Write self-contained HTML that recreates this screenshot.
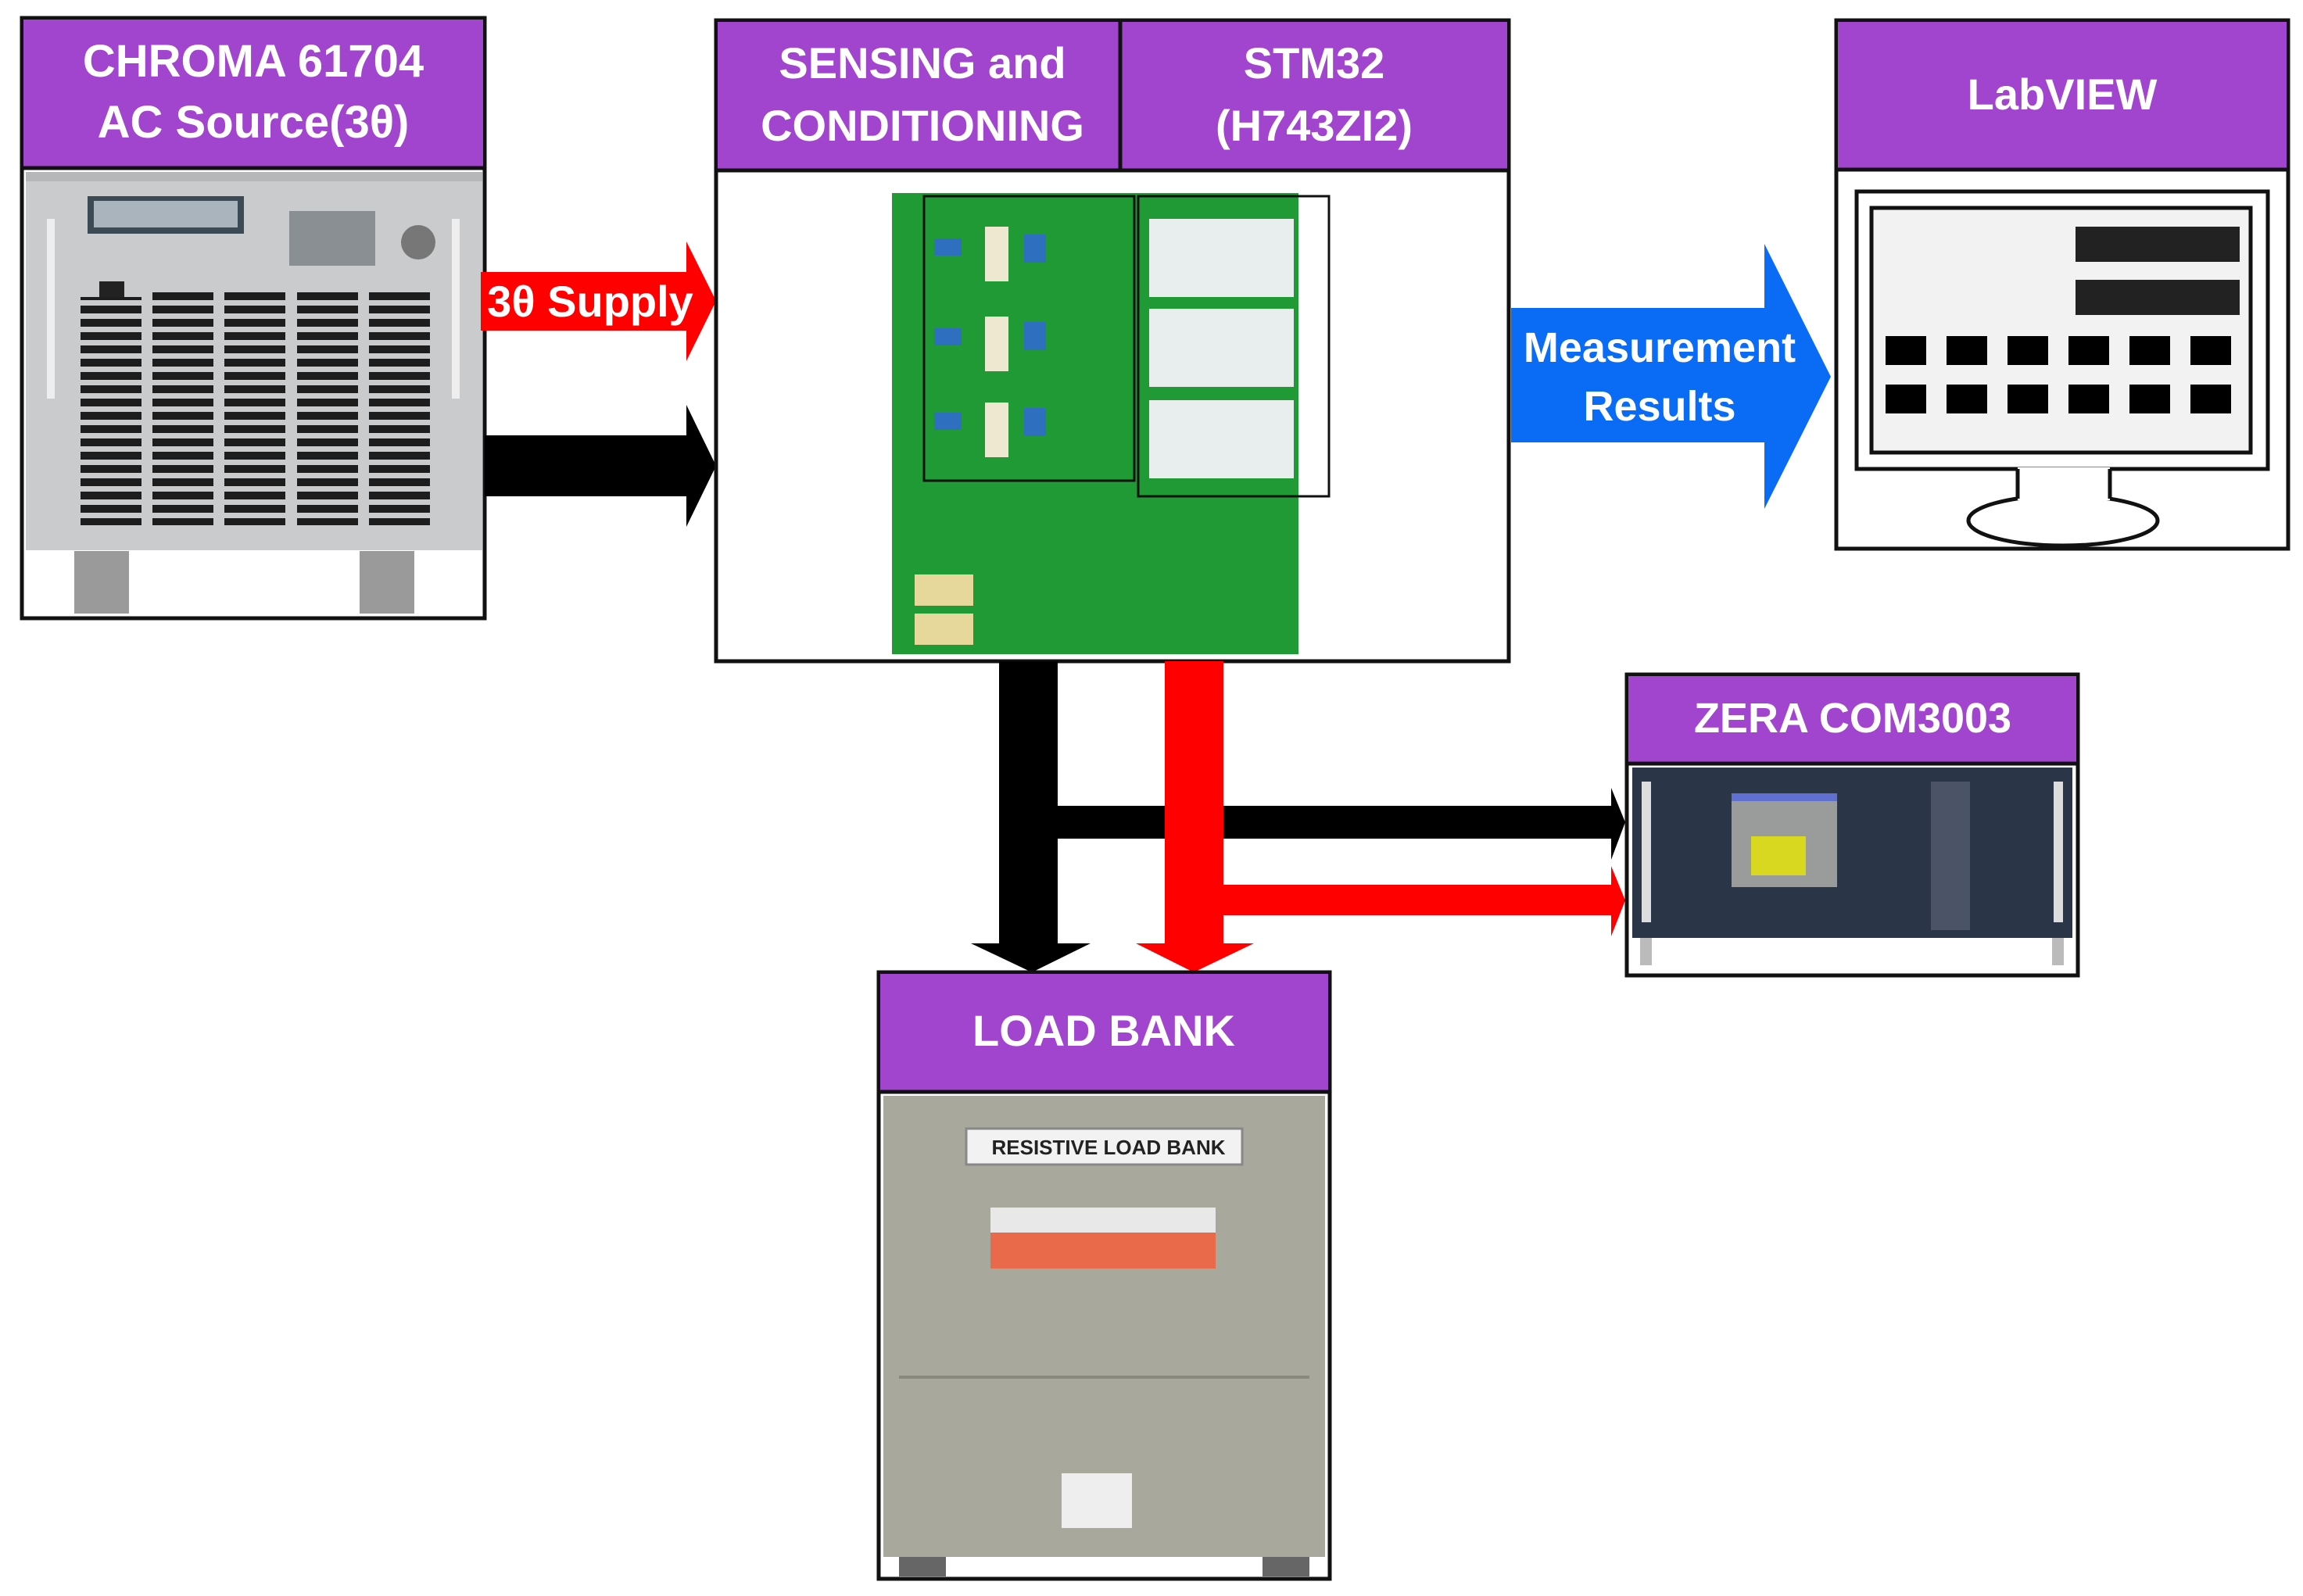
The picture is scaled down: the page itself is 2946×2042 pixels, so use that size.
<!DOCTYPE html>
<html><head><meta charset="utf-8"><style>
html,body{margin:0;padding:0;background:#fff;}
svg{display:block;}
text{font-family:"Liberation Sans",sans-serif;font-weight:bold;fill:#fff;text-anchor:middle;}
</style></head><body>
<svg width="2946" height="2042" viewBox="0 0 2946 2042" xmlns="http://www.w3.org/2000/svg">
<!-- CHROMA -->
<rect x="28" y="23" width="592" height="768" fill="#fff" stroke="#111" stroke-width="5"/>
<rect x="30" y="25" width="588" height="190" fill="#a145cf"/>
<line x1="28" y1="215" x2="620" y2="215" stroke="#111" stroke-width="5"/>
<text x="324" y="98" font-size="58">CHROMA 61704</text>
<text x="324" y="176" font-size="58">AC Source(3θ)</text>
<rect x="33" y="220" width="584" height="484" fill="#c9cbcc"/>
<rect x="33" y="220" width="584" height="12" fill="#b5b7b8"/>
<rect x="112" y="251" width="200" height="48" fill="#3b4a55"/>
<rect x="120" y="257" width="184" height="34" fill="#aab4bc"/>
<circle cx="535" cy="310" r="22" fill="#777"/>
<g fill="#8a8f93"><rect x="370" y="270" width="110" height="70"/></g>
<rect x="127" y="360" width="32" height="20" fill="#222"/>
<g fill="#1d1d1d">
<rect x="103" y="380" width="78" height="292" fill="url(#slat)"/>
<rect x="195" y="372" width="78" height="300" fill="url(#slat)"/>
<rect x="287" y="372" width="78" height="300" fill="url(#slat)"/>
<rect x="380" y="372" width="78" height="300" fill="url(#slat)"/>
<rect x="472" y="372" width="78" height="300" fill="url(#slat)"/>
</g>
<defs><pattern id="slat" width="10" height="17" patternUnits="userSpaceOnUse"><rect width="10" height="10" fill="#1d1d1d"/><rect y="10" width="10" height="7" fill="#c9cbcc"/></pattern></defs>
<rect x="60" y="280" width="10" height="230" fill="#eee"/>
<rect x="578" y="280" width="10" height="230" fill="#eee"/>
<rect x="95" y="705" width="70" height="80" fill="#9a9a9a"/>
<rect x="460" y="705" width="70" height="80" fill="#9a9a9a"/>

<!-- 3θ supply red arrow -->
<polygon points="615,348 878,348 878,309 916,385 878,462 878,423 615,423" fill="#f00"/>
<text x="755" y="405" font-size="56">3θ Supply</text>
<!-- black arrow -->
<polygon points="620,557 878,557 878,518 916,596 878,674 878,635 620,635" fill="#000"/>

<!-- SENSING / STM32 -->
<rect x="916" y="26" width="1014" height="820" fill="#fff" stroke="#111" stroke-width="5"/>
<rect x="918" y="28" width="1010" height="190" fill="#a145cf"/>
<line x1="916" y1="218" x2="1930" y2="218" stroke="#111" stroke-width="5"/>
<line x1="1433" y1="26" x2="1433" y2="218" stroke="#111" stroke-width="5"/>
<text x="1180" y="100" font-size="56">SENSING and</text>
<text x="1180" y="180" font-size="56">CONDITIONING</text>
<text x="1681" y="100" font-size="56">STM32</text>
<text x="1681" y="180" font-size="56">(H743ZI2)</text>
<rect x="1141" y="247" width="520" height="590" fill="#1f9a35"/>
<rect x="1182" y="251" width="269" height="364" fill="none" stroke="#111" stroke-width="3"/>
<rect x="1456" y="251" width="244" height="384" fill="none" stroke="#111" stroke-width="3"/>
<g fill="#e8eeee"><rect x="1470" y="280" width="185" height="100"/><rect x="1470" y="395" width="185" height="100"/><rect x="1470" y="512" width="185" height="100"/></g>
<g fill="#2f6fc0"><rect x="1310" y="300" width="28" height="36"/><rect x="1310" y="412" width="28" height="36"/><rect x="1310" y="522" width="28" height="36"/>
<rect x="1195" y="305" width="35" height="22"/><rect x="1195" y="420" width="35" height="22"/><rect x="1195" y="528" width="35" height="22"/></g>
<g fill="#eee8d0"><rect x="1260" y="290" width="30" height="70"/><rect x="1260" y="405" width="30" height="70"/><rect x="1260" y="515" width="30" height="70"/></g>
<rect x="1170" y="735" width="75" height="40" fill="#e6d89a"/>
<rect x="1170" y="785" width="75" height="40" fill="#e6d89a"/>

<!-- Measurement arrow -->
<polygon points="1933,394 2257,394 2257,312 2342,482 2257,651 2257,566 1933,566" fill="#0a6cf5"/>
<text x="2123" y="463" font-size="54">Measurement</text>
<text x="2123" y="538" font-size="54">Results</text>

<!-- LabVIEW -->
<rect x="2349" y="26" width="578" height="676" fill="#fff" stroke="#111" stroke-width="5"/>
<rect x="2351" y="28" width="574" height="189" fill="#a145cf"/>
<line x1="2349" y1="217" x2="2927" y2="217" stroke="#111" stroke-width="5"/>
<text x="2638" y="140" font-size="56">LabVIEW</text>
<rect x="2375" y="245" width="526" height="355" fill="#fff" stroke="#111" stroke-width="5"/>
<rect x="2394" y="266" width="485" height="313" fill="#f2f2f2" stroke="#111" stroke-width="5"/>
<rect x="2655" y="290" width="210" height="45" fill="#222"/>
<rect x="2655" y="358" width="210" height="45" fill="#222"/>
<g fill="#000">
<rect x="2412" y="430" width="52" height="37"/><rect x="2490" y="430" width="52" height="37"/><rect x="2568" y="430" width="52" height="37"/><rect x="2646" y="430" width="52" height="37"/><rect x="2724" y="430" width="52" height="37"/><rect x="2802" y="430" width="52" height="37"/>
<rect x="2412" y="492" width="52" height="37"/><rect x="2490" y="492" width="52" height="37"/><rect x="2568" y="492" width="52" height="37"/><rect x="2646" y="492" width="52" height="37"/><rect x="2724" y="492" width="52" height="37"/><rect x="2802" y="492" width="52" height="37"/>
</g>
<ellipse cx="2639" cy="666" rx="121" ry="32" fill="#fff" stroke="#111" stroke-width="5"/>
<rect x="2581" y="598" width="118" height="42" fill="#fff"/>
<line x1="2581" y1="600" x2="2581" y2="638" stroke="#111" stroke-width="5"/>
<line x1="2699" y1="600" x2="2699" y2="638" stroke="#111" stroke-width="5"/>

<!-- connectors down -->
<rect x="1278" y="846" width="75" height="365" fill="#000"/>
<polygon points="1242,1207 1395,1207 1320,1244" fill="#000"/>
<rect x="1353" y="1031" width="708" height="42" fill="#000"/>
<polygon points="2061,1008 2079,1052 2061,1100" fill="#000"/>
<rect x="1490" y="846" width="75" height="365" fill="#f00"/>
<polygon points="1453,1207 1604,1207 1527,1244" fill="#f00"/>
<rect x="1565" y="1132" width="496" height="39" fill="#f00"/>
<polygon points="2061,1108 2079,1152 2061,1198" fill="#f00"/>

<!-- ZERA -->
<rect x="2081" y="863" width="577" height="385" fill="#fff" stroke="#111" stroke-width="5"/>
<rect x="2083" y="865" width="573" height="112" fill="#a145cf"/>
<line x1="2081" y1="977" x2="2658" y2="977" stroke="#111" stroke-width="5"/>
<text x="2370" y="937" font-size="54">ZERA COM3003</text>
<rect x="2088" y="982" width="563" height="218" fill="#2b3548"/>
<rect x="2100" y="1000" width="12" height="180" fill="#ddd"/>
<rect x="2627" y="1000" width="12" height="180" fill="#ddd"/>
<rect x="2215" y="1015" width="135" height="120" fill="#9a9c9c"/>
<rect x="2215" y="1015" width="135" height="10" fill="#6070d0"/>
<rect x="2240" y="1070" width="70" height="50" fill="#d8d820"/>
<rect x="2470" y="1000" width="50" height="190" fill="#4a5466"/>
<rect x="2098" y="1200" width="15" height="35" fill="#bbb"/><rect x="2625" y="1200" width="15" height="35" fill="#bbb"/>

<!-- LOAD BANK -->
<rect x="1124" y="1244" width="577" height="776" fill="#fff" stroke="#111" stroke-width="5"/>
<rect x="1126" y="1246" width="573" height="151" fill="#a145cf"/>
<line x1="1124" y1="1397" x2="1701" y2="1397" stroke="#111" stroke-width="5"/>
<text x="1412" y="1338" font-size="56">LOAD BANK</text>
<rect x="1130" y="1402" width="565" height="590" fill="#a9a89c"/>
<line x1="1150" y1="1762" x2="1675" y2="1762" stroke="#8a897e" stroke-width="4"/>
<rect x="1236" y="1444" width="353" height="46" fill="#f2f2f2" stroke="#888" stroke-width="3"/>
<text x="1418" y="1477" font-size="26" style="fill:#222">RESISTIVE LOAD BANK</text>
<rect x="1267" y="1545" width="288" height="32" fill="#e8e8e8"/>
<rect x="1267" y="1577" width="288" height="46" fill="#e86a4a"/>
<rect x="1358" y="1885" width="90" height="70" fill="#eee"/>
<rect x="1150" y="1992" width="60" height="25" fill="#666"/><rect x="1615" y="1992" width="60" height="25" fill="#666"/>
</svg>
</body></html>
